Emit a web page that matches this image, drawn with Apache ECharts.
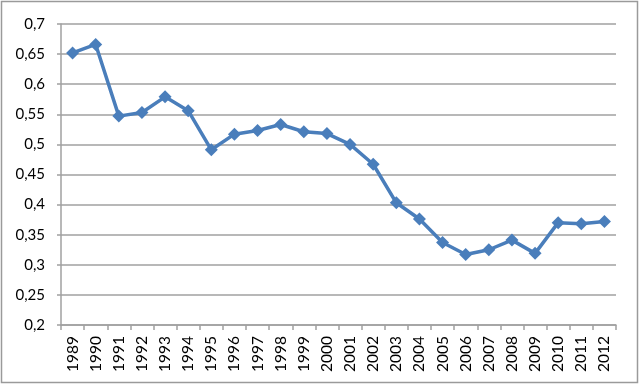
<!DOCTYPE html>
<html><head><meta charset="utf-8">
<script src="https://cdn.jsdelivr.net/npm/echarts@6/dist/echarts.min.js"></script>
<style>html,body{margin:0;padding:0;background:#fff}#c{width:640px;height:385px}</style>
</head><body><div id="c"></div>
<script>
const years = ['1989','1990','1991','1992','1993','1994','1995','1996','1997','1998','1999','2000','2001','2002','2003','2004','2005','2006','2007','2008','2009','2010','2011','2012'];
const values = [0.652,0.666,0.547,0.553,0.579,0.556,0.491,0.517,0.523,0.533,0.521,0.518,0.500,0.467,0.403,0.376,0.337,0.317,0.325,0.341,0.319,0.370,0.368,0.372];
const yMin = 0.2, yMax = 0.7, yStep = 0.05;

const chart = echarts.init(document.getElementById('c'), null, {renderer:'canvas'});
chart.setOption({
  animation:false,
  backgroundColor:'#fff',
  graphic:[{type:'rect',shape:{x:1.5,y:1.5,width:636,height:381},style:{fill:'none',stroke:'#9a9a9a',lineWidth:1.5},silent:true}],
  grid:{left:61,right:24,top:24,bottom:60,containLabel:false},
  xAxis:{
    type:'category',data:years,boundaryGap:true,
    axisLine:{lineStyle:{color:'#a0a0a0',width:1.5}},
    axisTick:{show:true,interval:0,length:5,lineStyle:{color:'#a0a0a0',width:1.5}},
    axisLabel:{interval:0,rotate:90,margin:11,color:'#000',fontFamily:'Lato',fontSize:15.5}
  },
  yAxis:{
    type:'value',min:yMin,max:yMax,interval:yStep,
    axisLine:{show:true,lineStyle:{color:'#a0a0a0',width:1.5}},
    axisTick:{show:true,length:4,lineStyle:{color:'#a0a0a0',width:1.5}},
    splitLine:{lineStyle:{color:'#a0a0a0',width:1.5}},
    axisLabel:{margin:16,color:'#000',fontFamily:'Lato',fontSize:15,
      formatter:v=>String(+v.toFixed(2)).replace('.',',')}
  },
  series:[{
    type:'line',data:values,symbol:'diamond',symbolSize:13,
    lineStyle:{color:'#4a7ebb',width:3.5},
    itemStyle:{color:'#4a7ebb'}
  }]
});
</script></body></html>
